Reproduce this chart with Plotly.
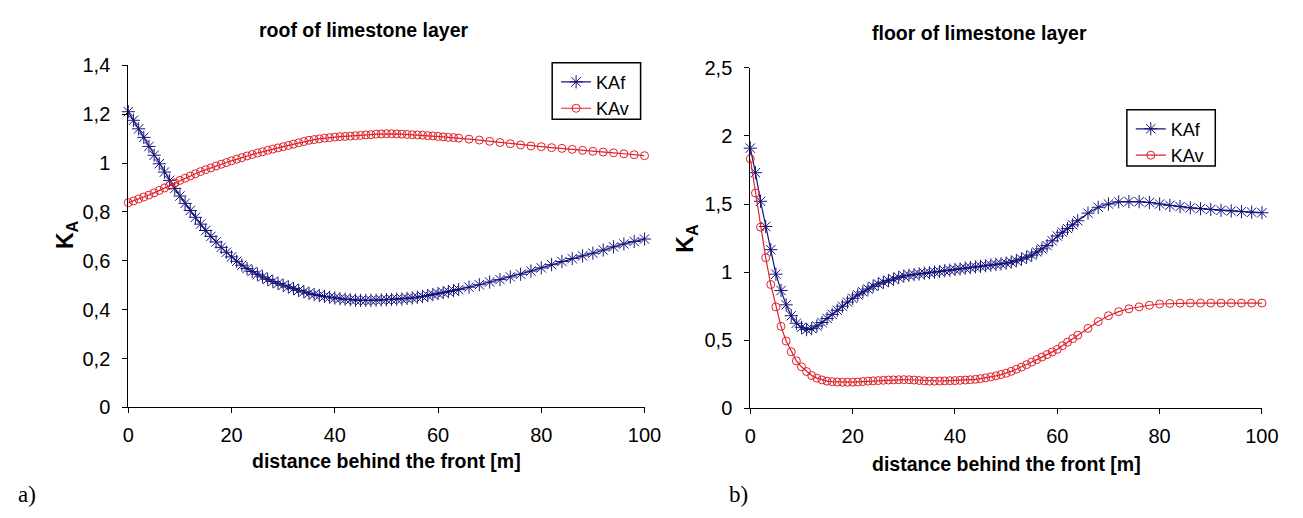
import plotly.graph_objects as go

# Distance behind the front [m] (node positions shared by both panels)
distance = list(range(0, 65)) + list(range(66, 101, 2))

# Roof of limestone layer
roof_kaf = [
    1.210, 1.175, 1.140, 1.105, 1.068, 1.032, 0.997, 0.963, 0.929, 0.896,
    0.865, 0.835, 0.806, 0.778, 0.750, 0.724, 0.700, 0.677, 0.655, 0.635,
    0.616, 0.598, 0.582, 0.568, 0.556, 0.545, 0.534, 0.524, 0.515, 0.507,
    0.500, 0.493, 0.486, 0.479, 0.473, 0.467, 0.462, 0.458, 0.454, 0.451,
    0.448, 0.445, 0.443, 0.441, 0.439, 0.438, 0.438, 0.438, 0.439, 0.440,
    0.441, 0.442, 0.443, 0.444, 0.446, 0.448, 0.451, 0.454, 0.458, 0.462,
    0.466, 0.470, 0.474, 0.478, 0.482,
    0.492, 0.502, 0.513, 0.523, 0.534, 0.545, 0.558, 0.571, 0.584, 0.597,
    0.609, 0.620, 0.631, 0.644, 0.657, 0.669, 0.679, 0.689,
]
roof_kav = [
    0.838, 0.845, 0.853, 0.861, 0.869, 0.878, 0.888, 0.898, 0.908, 0.919,
    0.929, 0.938, 0.947, 0.956, 0.965, 0.973, 0.980, 0.988, 0.995, 1.002,
    1.009, 1.016, 1.022, 1.029, 1.035, 1.041, 1.046, 1.052, 1.057, 1.062,
    1.067, 1.072, 1.077, 1.083, 1.088, 1.093, 1.096, 1.099, 1.102, 1.104,
    1.106, 1.108, 1.109, 1.110, 1.112, 1.113, 1.115, 1.116, 1.118, 1.119,
    1.120, 1.120, 1.119, 1.118, 1.117, 1.116, 1.115, 1.114, 1.112, 1.111,
    1.109, 1.107, 1.105, 1.104, 1.102,
    1.098, 1.094, 1.089, 1.084, 1.079, 1.074, 1.070, 1.067, 1.063, 1.060,
    1.056, 1.052, 1.048, 1.045, 1.042, 1.038, 1.034, 1.030,
]

# Floor of limestone layer
floor_kaf = [
    1.910, 1.730, 1.520, 1.335, 1.165, 0.985, 0.865, 0.760, 0.680, 0.625,
    0.595, 0.578, 0.585, 0.605, 0.630, 0.660, 0.690, 0.720, 0.750, 0.780,
    0.808, 0.833, 0.855, 0.876, 0.896, 0.913, 0.926, 0.938, 0.949, 0.961,
    0.972, 0.977, 0.982, 0.987, 0.992, 0.996, 1.001, 1.005, 1.010, 1.014,
    1.019, 1.024, 1.029, 1.034, 1.038, 1.043, 1.047, 1.052, 1.057, 1.061,
    1.066, 1.074, 1.084, 1.096, 1.110, 1.125, 1.148, 1.171, 1.195, 1.230,
    1.265, 1.293, 1.320, 1.347, 1.377,
    1.433, 1.476, 1.500, 1.516, 1.518, 1.517, 1.511, 1.500, 1.490, 1.481,
    1.472, 1.466, 1.460, 1.454, 1.449, 1.444, 1.440, 1.436,
]
floor_kav = [
    1.832, 1.580, 1.330, 1.106, 0.909, 0.745, 0.602, 0.494, 0.415, 0.349,
    0.305, 0.270, 0.241, 0.222, 0.209, 0.200, 0.196, 0.193, 0.192, 0.192,
    0.192, 0.194, 0.197, 0.200, 0.202, 0.204, 0.206, 0.208, 0.209, 0.210,
    0.211, 0.210, 0.208, 0.205, 0.202, 0.200, 0.200, 0.201, 0.202, 0.203,
    0.204, 0.206, 0.208, 0.210, 0.213, 0.218, 0.224, 0.231, 0.239, 0.248,
    0.258, 0.272, 0.287, 0.303, 0.321, 0.340, 0.358, 0.377, 0.395, 0.414,
    0.433, 0.460, 0.486, 0.512, 0.537,
    0.587, 0.637, 0.680, 0.710, 0.731, 0.745, 0.757, 0.766, 0.770, 0.772,
    0.773, 0.773, 0.773, 0.773, 0.773, 0.773, 0.773, 0.773,
]

x_ticks = [0, 20, 40, 60, 80, 100]

W, H = 1303, 518
NAVY = "#14147a"
RED = "#e0202a"
FONT = "Liberation Sans, Arial, sans-serif"


def px(x):
    return x / W


def py(y):
    return 1 - y / H


fig = go.Figure()


def add_series(xa, ya, y, name, color, symbol, size, legend):
    fig.add_trace(go.Scatter(
        x=distance, y=y, name=name, mode="lines+markers",
        xaxis=xa, yaxis=ya, legend=legend, cliponaxis=False,
        line=dict(color=color, width=1.2),
        marker=dict(symbol=symbol, size=size, color=color,
                    line=dict(color=color, width=1)),
    ))


add_series("x", "y", roof_kaf, "KAf", NAVY, "asterisk-open", 11, "legend")
add_series("x", "y", roof_kav, "KAv", RED, "circle-open", 8, "legend")
add_series("x2", "y2", floor_kaf, "KAf", NAVY, "asterisk-open", 11, "legend2")
add_series("x2", "y2", floor_kav, "KAv", RED, "circle-open", 8, "legend2")

axis_common = dict(
    showline=True, linecolor="black", linewidth=1, mirror=False,
    ticks="outside", ticklen=5, tickcolor="black", tickwidth=1,
    showgrid=False, zeroline=False,
    tickfont=dict(family=FONT, size=20, color="black"),
)

legend_common = dict(
    xanchor="left", yanchor="top", borderwidth=0,
    bgcolor="rgba(0,0,0,0)", tracegroupgap=0,
    font=dict(family=FONT, size=18, color="black"),
)

fig.update_layout(
    width=W, height=H,
    margin=dict(l=0, r=0, t=0, b=0),
    paper_bgcolor="white", plot_bgcolor="white",
    separators=",.",
    showlegend=True,
    xaxis=dict(domain=[px(124.5), px(650)], range=[0, 100],
               tickvals=x_ticks, anchor="y", ticklabelstandoff=5,
               **axis_common),
    yaxis=dict(domain=[py(414), py(56.7)], range=[0, 1.4], dtick=0.2,
               tick0=0, anchor="x", ticklabelstandoff=8, **axis_common),
    xaxis2=dict(domain=[px(757.7), px(1278.5)], range=[0, 100],
                tickvals=x_ticks, anchor="y2", ticklabelstandoff=5,
                **axis_common),
    yaxis2=dict(domain=[py(415), py(59.3)], range=[0, 2.5], dtick=0.5,
                tick0=0, anchor="x2", ticklabelstandoff=8, **axis_common),
    legend=dict(x=px(560), y=py(55), **legend_common),
    legend2=dict(x=px(1145), y=py(104), **legend_common),
)

# Legend frames
for x0, y0, x1, y1 in [(556, 54, 646, 113), (1141, 103, 1231, 162)]:
    fig.add_shape(type="rect", xref="paper", yref="paper",
                  x0=px(x0), x1=px(x1), y0=py(y1), y1=py(y0),
                  line=dict(color="black", width=1.5),
                  fillcolor="rgba(0,0,0,0)", layer="above")


def label(text, x, y, size, bold=False, angle=0, family=FONT):
    fig.add_annotation(
        text=f"<b>{text}</b>" if bold else text,
        x=px(x), y=py(y), xref="paper", yref="paper",
        xanchor="center", yanchor="middle", showarrow=False,
        textangle=angle, font=dict(family=family, size=size, color="black"),
    )


label("roof of limestone layer", 364, 20, 19.5, bold=True)
label("floor of limestone layer", 991, 23, 19.5, bold=True)
label("distance behind the front [m]", 387, 470, 19.5, bold=True)
label("distance behind the front [m]", 1018, 473, 19.5, bold=True)
label("K<sub>A</sub>", 61, 233, 23, bold=True, angle=-90)
label("K<sub>A</sub>", 693, 237, 23, bold=True, angle=-90)
label("a)", 21, 505, 23, family="Liberation Serif, Times New Roman, serif")
label("b)", 746, 505, 23, family="Liberation Serif, Times New Roman, serif")

fig.write_html("out.html")
